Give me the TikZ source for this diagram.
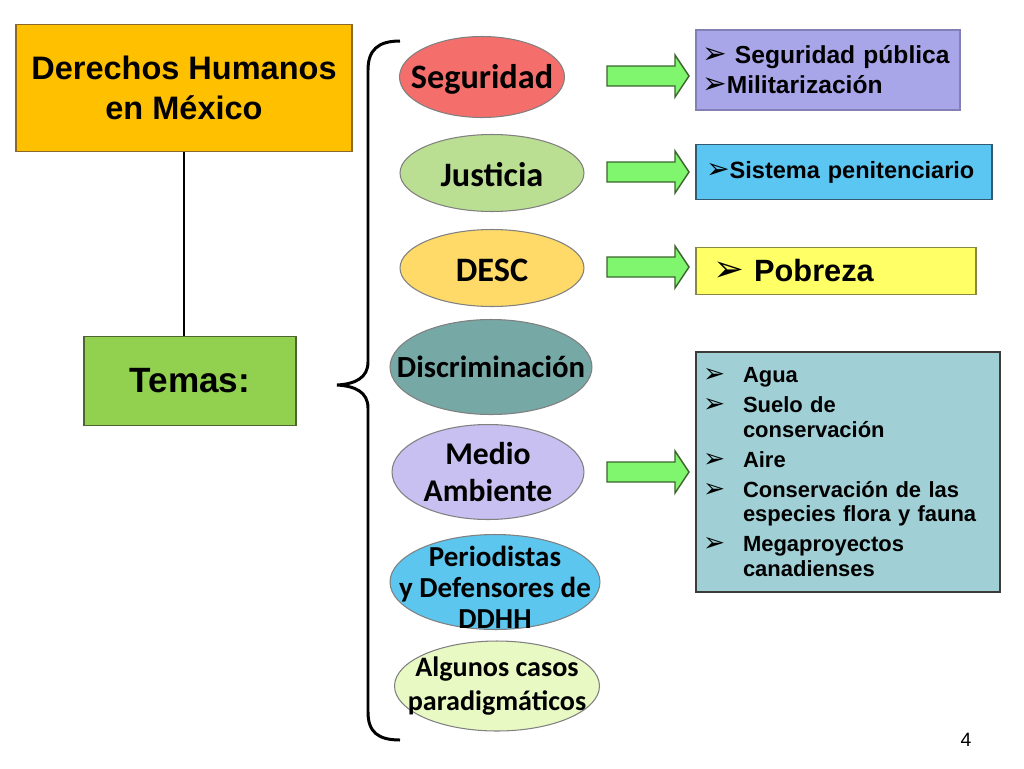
\documentclass[tikz,border=0pt]{standalone}
\usepackage{fontspec}
\setmainfont{Liberation Sans}
\newfontfamily\calibri{Carlito}
\newfontfamily\dejavu{DejaVu Sans}
\usepackage{xcolor}
\usepackage{graphicx}
\usetikzlibrary{shapes.geometric}
\definecolor{naranja}{RGB}{255,192,0}
\definecolor{naranjaborde}{RGB}{140,105,40}
\definecolor{verdetema}{RGB}{146,208,80}
\definecolor{verdeborde}{RGB}{80,100,50}
\definecolor{cseg}{RGB}{244,110,108}
\definecolor{cjus}{RGB}{186,222,146}
\definecolor{cdesc}{RGB}{255,218,104}
\definecolor{cdisc}{RGB}{118,168,166}
\definecolor{cmedio}{RGB}{200,192,240}
\definecolor{cperio}{RGB}{92,198,238}
\definecolor{calg}{RGB}{232,249,196}
\definecolor{flechaverde}{RGB}{128,245,110}
\definecolor{flechaborde}{RGB}{60,100,45}
\definecolor{lila}{RGB}{168,165,232}
\definecolor{lilaborde}{RGB}{130,128,180}
\definecolor{celeste}{RGB}{92,198,242}
\definecolor{celesteborde}{RGB}{50,90,115}
\definecolor{amarillo}{RGB}{255,255,102}
\definecolor{amarilloborde}{RGB}{135,135,70}
\definecolor{turquesa}{RGB}{160,208,214}
\definecolor{turquesaborde}{RGB}{60,60,60}
\newcommand{\vin}{\scalebox{1.2}{\dejavu ➢}}
\newcommand{\vli}{\makebox[0.8cm][l]{\vin}}

\begin{document}
\begin{tikzpicture}[x=0.02cm,y=-0.02cm,
  caja/.style={draw,line width=0.8pt,font=\bfseries,inner ysep=0pt},
  tema/.style={ellipse,draw=black!50,line width=0.6pt,inner sep=0pt},
  tematxt/.style={align=center,inner sep=0pt},
  flecha/.style={fill=flechaverde,draw=flechaborde,line width=0.8pt,line join=miter}]
\useasboundingbox (0,0) rectangle (1024,768);
% left column
\node[caja,fill=naranja,draw=naranjaborde,minimum width=6.72cm,minimum height=2.54cm,
  align=center,font=\fontsize{18.5}{23}\selectfont\bfseries] (titulo) at (184,88)
  {Derechos Humanos\\en México};
\node[caja,fill=verdetema,draw=verdeborde,minimum width=4.24cm,minimum height=1.78cm,
  font=\fontsize{20}{24}\selectfont\bfseries] (temas) at (190,381) {Temas:};
\draw[line width=1.6pt] (titulo.south) -- (titulo.south |- temas.north);
% brace
\draw[line width=1.7pt] (400,41) .. controls (378,41) and (368,50) .. (368,70) -- (368,362)
  .. controls (368,378) and (355,384) .. (337,385) .. controls (355,386) and (368,392) .. (368,408)
  -- (368,712) .. controls (368,732) and (378,740) .. (400,740);
% topics
\node[tema,fill=cseg,minimum width=3.3cm,minimum height=1.62cm] (seg) at (482,77) {};
\node[tema,fill=cjus,minimum width=3.68cm,minimum height=1.54cm] (jus) at (492,173) {};
\node[tema,fill=cdesc,minimum width=3.68cm,minimum height=1.54cm] (desc) at (492,268) {};
\node[tema,fill=cdisc,minimum width=4.04cm,minimum height=1.9cm] (disc) at (491,367) {};
\node[tema,fill=cmedio,minimum width=3.84cm,minimum height=1.9cm] (medio) at (488,472) {};
\node[tema,fill=cperio,minimum width=4.2cm,minimum height=1.9cm] (perio) at (495,582) {};
\node[tema,fill=calg,minimum width=4.1cm,minimum height=1.8cm] (alg) at (497,686) {};
\node[tematxt,font=\calibri\fontsize{19.5}{22}\selectfont\bfseries] (tseg) at (482,79) {Seguridad};
\node[tematxt,font=\calibri\fontsize{19.5}{22}\selectfont\bfseries] (tjus) at (492,175) {Justicia};
\node[tematxt,font=\calibri\fontsize{19.5}{22}\selectfont\bfseries] (tdesc) at (492,270) {DESC};
\node[tematxt,font=\calibri\fontsize{17.5}{21}\selectfont\bfseries] (tdisc) at (disc) {Discriminación};
\node[tematxt,font=\calibri\fontsize{18}{21}\selectfont\bfseries] (tmedio) at (medio) {Medio\\Ambiente};
\node[tematxt,font=\calibri\fontsize{16.5}{17.6}\selectfont\bfseries] (tperio) at (495,587)
  {Periodistas\\y Defensores de\\DDHH};
\node[tematxt,font=\calibri\fontsize{16}{19.5}\selectfont\bfseries] (talg) at (alg)
  {Algunos casos\\paradigmáticos};
% block arrows
\foreach \y in {76,172,267,472}{
  \draw[flecha] (607,\y-10) -- (675,\y-10) -- (675,\y-21) -- (689,\y)
    -- (675,\y+21) -- (675,\y+10) -- (607,\y+10) -- cycle;
}
% detail boxes
\node[caja,fill=lila,draw=lilaborde,minimum height=1.6cm,inner xsep=0.12cm,text width=5.04cm,
  align=left,font=\fontsize{14}{17}\selectfont\bfseries] (bseg) at (828,70)
  {\vin{} Seguridad pública\\\vin Militarización};
\node[caja,fill=celeste,draw=celesteborde,minimum height=1.1cm,inner xsep=0.2cm,text width=5.52cm,
  align=left,font=\fontsize{13.4}{16}\selectfont\bfseries] (bjus) at (844,172)
  {\vin Sistema penitenciario};
\node[caja,fill=amarillo,draw=amarilloborde,minimum height=0.94cm,inner xsep=0.34cm,text width=4.92cm,
  align=left,font=\fontsize{17.5}{20}\selectfont\bfseries] (bdesc) at (836,271)
  {\vin{} Pobreza};
\node[caja,fill=turquesa,draw=turquesaborde,minimum height=4.8cm,inner xsep=0.14cm,text width=5.8cm,
  align=left,font=\fontsize{12.5}{14}\selectfont\bfseries] (bmedio) at (848,472)
  {\vli Agua\\[3pt]
   \vli Suelo de\\ \hspace*{0.8cm}conservación\\[3pt]
   \vli Aire\\[3pt]
   \vli Conservación de las\\ \hspace*{0.8cm}especies flora y fauna\\[3pt]
   \vli Megaproyectos\\ \hspace*{0.8cm}canadienses};
% page number
\node[font=\fontsize{11}{13}\selectfont] (pag) at (966,740) {4};
\end{tikzpicture}
\end{document}
